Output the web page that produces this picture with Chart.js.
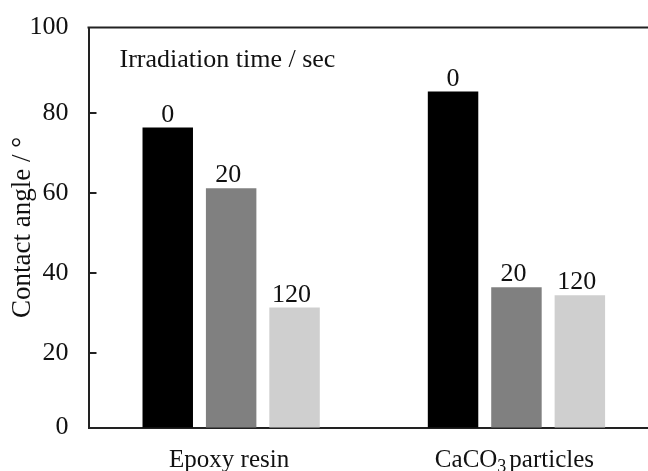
<!DOCTYPE html>
<html><head><meta charset="utf-8">
<script src="https://cdn.jsdelivr.net/npm/chart.js@4"></script>
<style>
html,body{margin:0;padding:0;background:#fff;overflow:hidden;width:648px;height:471px;}
#wrap{position:absolute;left:0;top:0;width:672px;height:471px;}
</style></head><body>
<div id="wrap"><canvas id="c"></canvas></div>
<script>
// ---- data ----
const categories = ['Epoxy resin', 'CaCO\u2083 particles'];
const irradiationTimes = ['0', '20', '120'];
const angleAt0s = [76.3, 85.3];
const angleAt20s = [61.1, 36.4];
const angleAt120s = [31.3, 34.4];
const yTickValues = [20, 40, 60, 80];
const yTickLabels = ['0', '20', '40', '60', '80', '100'];
const legendTitle = 'Irradiation time / sec';
const yTitle = 'Contact angle / \u00B0';
// the original frame sits slightly off its own tick marks
const yFrameMin = 1.3;
const yFrameMax = 101.3;

const FONT = '"Liberation Serif", "Times New Roman", serif';
const INK = '#111';
const LINE = '#222';
const barColors = ['#000000', '#808080', '#cfcfcf'];
const seriesValues = [angleAt0s, angleAt20s, angleAt120s];

const deco = {
  id: 'deco',
  afterDraw(chart) {
    const {ctx, chartArea: a, scales: {x, y}} = chart;
    ctx.save();
    // top frame line
    ctx.strokeStyle = LINE; ctx.lineWidth = 2;
    ctx.beginPath(); ctx.moveTo(a.left - 1, a.top); ctx.lineTo(a.right, a.top); ctx.stroke();
    // inward tick marks
    yTickValues.forEach(v => {
      const py = Math.round(y.getPixelForValue(v));
      ctx.beginPath(); ctx.moveTo(a.left, py); ctx.lineTo(a.left + 8, py); ctx.stroke();
    });
    // value labels (irradiation time) above bars
    ctx.fillStyle = INK;
    ctx.font = '26px ' + FONT;
    ctx.textAlign = 'center'; ctx.textBaseline = 'alphabetic';
    chart.data.datasets.forEach((ds, i) => {
      chart.getDatasetMeta(i).data.forEach(bar => {
        const shift = ds.label.length > 1 ? -3 : 0;
        ctx.fillText(ds.label, bar.x + shift, bar.y - 6);
      });
    });
    // legend title
    ctx.textAlign = 'left';
    ctx.fillText(legendTitle, a.left + 31, a.top + 39);
    // category labels with subscripts
    const subs = '\u2080\u2081\u2082\u2083\u2084\u2085\u2086\u2087\u2088\u2089';
    const mainFont = '25px ' + FONT, subFont = '18px ' + FONT;
    const baseline = 467;
    categories.forEach((label, i) => {
      const segs = [];
      for (const ch of label) {
        const k = subs.indexOf(ch);
        const isSub = k >= 0;
        const t = isSub ? String(k) : ch;
        const last = segs[segs.length - 1];
        if (last && last.sub === isSub) last.t += t; else segs.push({t, sub: isSub});
      }
      let total = 0;
      segs.forEach((s, j) => {
        ctx.font = s.sub ? subFont : mainFont;
        if (!s.sub && j > 0 && segs[j - 1].sub && s.t.startsWith(' ')) { s.t = s.t.slice(1); s.gap = 3; } else s.gap = 0;
        s.w = ctx.measureText(s.t).width;
        total += s.w + s.gap;
      });
      let px = x.getPixelForValue(i) - 2 - total / 2;
      segs.forEach(s => {
        px += s.gap;
        ctx.font = s.sub ? subFont : mainFont;
        ctx.fillText(s.t, px, baseline + (s.sub ? 5 : 0));
        px += s.w;
      });
    });
    ctx.restore();
  }
};

new Chart(document.getElementById('c'), {
  type: 'bar',
  data: {
    labels: categories,
    datasets: irradiationTimes.map((t, i) => ({
      label: t,
      data: seriesValues[i],
      backgroundColor: barColors[i],
      borderWidth: 0,
      categoryPercentage: 0.6667,
      barPercentage: 0.796
    }))
  },
  options: {
    responsive: true,
    maintainAspectRatio: false,
    animation: false,
    layout: {padding: {left: 0, top: 22, right: 12.9, bottom: 0}},
    plugins: {legend: {display: false}, tooltip: {enabled: false}},
    scales: {
      x: {
        z: 1,
        grid: {display: false},
        border: {display: true, color: LINE, width: 2},
        ticks: {display: false},
        afterFit(s) { s.height = 43.5; }
      },
      y: {
        z: 1,
        min: yFrameMin,
        max: yFrameMax,
        afterBuildTicks(s) {
          s.ticks = [yFrameMin, ...yTickValues, yFrameMax].map(v => ({value: v}));
        },
        grid: {display: false},
        border: {display: true, color: LINE, width: 2},
        ticks: {
          autoSkip: false,
          font: {family: FONT, size: 26},
          color: INK,
          padding: 12,
          callback: (v, i) => yTickLabels[i]
        },
        title: {
          display: true, text: yTitle, color: INK,
          font: {family: FONT, size: 27},
          padding: {top: 7, bottom: 0}
        },
        afterFit(s) { s.width = 88.5; }
      }
    }
  },
  plugins: [deco]
});
</script>
</body></html>
